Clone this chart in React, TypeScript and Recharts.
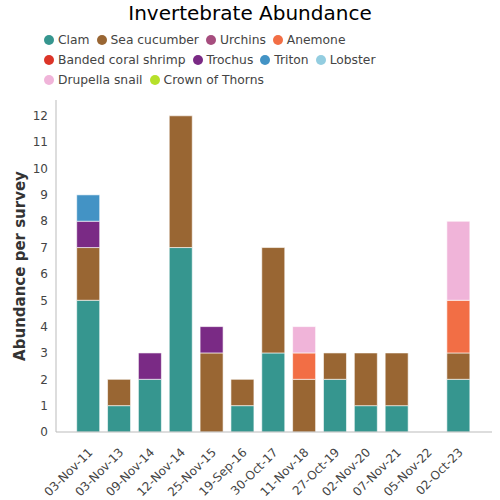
import React from 'react';
import { BarChart, Bar, XAxis, YAxis } from 'recharts';

const surveyDates = [
  '03-Nov-11', '03-Nov-13', '09-Nov-14', '12-Nov-14', '25-Nov-15', '19-Sep-16', '30-Oct-17',
  '11-Nov-18', '27-Oct-19', '02-Nov-20', '07-Nov-21', '05-Nov-22', '02-Oct-23',
];

const clam = [5, 1, 2, 7, 0, 1, 3, 0, 2, 1, 1, 0, 2];
const seaCucumber = [2, 1, 0, 5, 3, 1, 4, 2, 1, 2, 2, 0, 1];
const urchins = [0, 0, 0, 0, 0, 0, 0, 0, 0, 0, 0, 0, 0];
const anemone = [0, 0, 0, 0, 0, 0, 0, 1, 0, 0, 0, 0, 2];
const bandedCoralShrimp = [0, 0, 0, 0, 0, 0, 0, 0, 0, 0, 0, 0, 0];
const trochus = [1, 0, 1, 0, 1, 0, 0, 0, 0, 0, 0, 0, 0];
const triton = [1, 0, 0, 0, 0, 0, 0, 0, 0, 0, 0, 0, 0];
const lobster = [0, 0, 0, 0, 0, 0, 0, 0, 0, 0, 0, 0, 0];
const drupellaSnail = [0, 0, 0, 0, 0, 0, 0, 1, 0, 0, 0, 0, 3];
const crownOfThorns = [0, 0, 0, 0, 0, 0, 0, 0, 0, 0, 0, 0, 0];

const yTicks = [0, 1, 2, 3, 4, 5, 6, 7, 8, 9, 10, 11, 12];

const species = [
  { name: 'Clam', values: clam, color: '#36968f' },
  { name: 'Sea cucumber', values: seaCucumber, color: '#996633' },
  { name: 'Urchins', values: urchins, color: '#a64d7e' },
  { name: 'Anemone', values: anemone, color: '#f26e45' },
  { name: 'Banded coral shrimp', values: bandedCoralShrimp, color: '#dc3428' },
  { name: 'Trochus', values: trochus, color: '#7a2a85' },
  { name: 'Triton', values: triton, color: '#4393c5' },
  { name: 'Lobster', values: lobster, color: '#93cde0' },
  { name: 'Drupella snail', values: drupellaSnail, color: '#f0b4d9' },
  { name: 'Crown of Thorns', values: crownOfThorns, color: '#b6e02a' },
];

const data = surveyDates.map((date, i) => {
  const row: Record<string, string | number> = { date };
  species.forEach((s) => {
    row[s.name] = s.values[i];
  });
  return row;
});

const FONT = '"DejaVu Sans", sans-serif';

// rotated date labels under each bar
function DateTick(props: any) {
  const { x, y, payload } = props;
  return (
    <text
      x={x + 5}
      y={y + 13}
      transform={`rotate(-45, ${x + 5}, ${y + 13})`}
      textAnchor="end"
      fontSize={12}
      fontFamily={FONT}
      fill="#444"
    >
      {payload.value}
    </text>
  );
}

function SpeciesLegend() {
  return (
    <div
      style={{
        position: 'absolute', top: 30, left: 44, width: 410,
        display: 'flex', flexWrap: 'wrap', fontFamily: FONT, fontSize: 12.3, color: '#444',
      }}
    >
      {species.map((s) => (
        <div key={s.name} style={{ display: 'flex', alignItems: 'center', height: 20, marginRight: 7 }}>
          <span style={{ width: 10, height: 10, borderRadius: '50%', background: s.color, marginRight: 4 }} />
          <span style={{ whiteSpace: 'nowrap' }}>{s.name}</span>
        </div>
      ))}
    </div>
  );
}

export default function App() {
  return (
    <div style={{ position: 'absolute', left: 0, top: 0, width: 500, height: 500, background: '#fff' }}>
      <div
        style={{
          position: 'absolute', top: 1, left: 0, width: 500, textAlign: 'center',
          fontFamily: FONT, fontSize: 20, color: '#000', lineHeight: '24px',
        }}
      >
        Invertebrate Abundance
      </div>
      <SpeciesLegend />
      <div style={{ position: 'absolute', left: 0, top: 0 }}>
        <BarChart
          width={500}
          height={500}
          data={data}
          margin={{ top: 100, right: 8, left: 0, bottom: 0 }}
          barCategoryGap="12%"
        >
          <XAxis
            dataKey="date"
            interval={0}
            height={68}
            tick={<DateTick />}
            tickLine={false}
            axisLine={{ stroke: '#bbb' }}
            padding={{ left: 17, right: 18 }}
          />
          <YAxis
            width={56}
            domain={[0, 12.6]}
            ticks={yTicks}
            tickLine={false}
            tickSize={0}
            tickMargin={8}
            axisLine={{ stroke: '#bbb' }}
            tick={{ fontSize: 12, fontFamily: FONT, fill: '#444' }}
            label={{
              value: 'Abundance per survey',
              content: ({ viewBox }: any) => (
                <text
                  x={20}
                  y={viewBox.y + viewBox.height / 2}
                  transform={`rotate(-90, 20, ${viewBox.y + viewBox.height / 2})`}
                  textAnchor="middle"
                  dominantBaseline="central"
                  fontSize={15}
                  fontWeight="bold"
                  fontFamily={FONT}
                  fill="#333"
                >
                  Abundance per survey
                </text>
              ),
            }}
          />
          {species.map((s) => (
            <Bar
              key={s.name}
              dataKey={s.name}
              stackId="a"
              fill={s.color}
              stroke="#ffffff"
              strokeOpacity={0.6}
              strokeWidth={1}
              isAnimationActive={false}
            />
          ))}
        </BarChart>
      </div>
    </div>
  );
}
